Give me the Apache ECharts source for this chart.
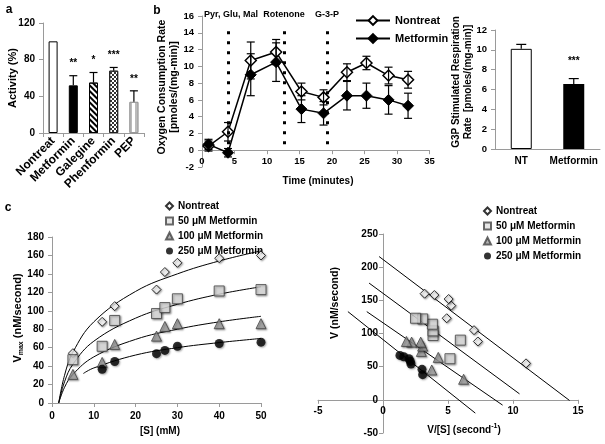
<!DOCTYPE html>
<html><head><meta charset="utf-8">
<script src="https://cdn.jsdelivr.net/npm/echarts@6/dist/echarts.min.js"></script>
<style>html,body{margin:0;padding:0;background:#fff}#c{width:605px;height:444px}</style>
</head><body><div id="c"></div>
<script>
// ---------- Panel a ----------
const aCats = ['Nontreat', 'Metformin', 'Galegine', 'Phenformin', 'PEP'];
const aVals = [100, 52, 55, 68, 34];
const aErr = [0, 10.5, 11, 3.5, 12];
const aStars = ['', '**', '*', '***', '**'];
// ---------- Panel b (left) ----------
const bTime = [1, 4, 7.5, 11.4, 15.3, 18.7, 22.3, 25.3, 28.7, 31.7];
const bNT = [0.5, 2.2, 10.7, 11.7, 7.0, 6.3, 9.3, 10.4, 8.9, 8.4];
const bNTerr = [0.6, 1.1, 2.2, 1.5, 1.0, 0.9, 1.0, 0.8, 1.0, 1.0];
const bMet = [0.7, -0.3, 9.0, 10.5, 4.9, 4.4, 6.5, 6.5, 6.0, 5.3];
const bMetErr = [0.6, 0.5, 2.5, 2.3, 1.6, 1.4, 1.7, 1.5, 1.7, 1.5];
const injTimes = [4.0, 12.6, 19.2];
const injLabels = ['Pyr, Glu, Mal', 'Rotenone', 'G-3-P'];
// ---------- Panel b (right) ----------
const g3pCats = ['NT', 'Metformin'];
const g3pVals = [10.1, 6.55];
const g3pErr = [0.45, 0.55];
const g3pStars = ['', '***'];
// ---------- Panel c (left) ----------
const sAll = [5, 12, 15, 25, 27, 30, 40, 50];
const vNT = [54, 88, 105, 123, 142, 152, 157, 160];
const v50 = [47, 61.5, 89.5, 97, 103.5, 113, 121.5, 123];
const v100 = [31, 44, 63.5, 72.5, 83, 86, 86, 86];
const s250 = [12, 15, 25, 27, 30, 40, 50];
const v250 = [36.5, 45, 53.5, 57, 61.5, 64.5, 66];
const fitX = [1.6, 3, 5, 10, 20, 30, 40, 50];
const fitNT = [0, 30, 55, 88, 121, 140, 154, 165];
const fit50 = [0, 23, 42, 67, 92, 107, 118, 126];
const fit100 = [0, 17, 31, 50, 69, 80, 88, 94];
const fit250X = [7.5, 10, 20, 30, 40, 50];
const fit250 = [32, 38, 52, 60, 65.5, 70];
// ---------- Panel c (right, Eadie-Hofstee) ----------
const ehNTx = [11, 7.3, 7.0, 4.9, 5.25, 5.05, 3.95, 3.2];
const ehNTy = [55, 88, 105, 123, 142, 152, 158, 160];
const eh50x = [5.15, 5.95, 3.85, 3.85, 3.8, 3.05, 2.5];
const eh50y = [62, 90, 97, 104, 114, 122, 123];
const eh100x = [6.2, 3.75, 4.25, 2.95, 3.05, 2.9, 2.2, 1.8];
const eh100y = [31, 45, 64, 73, 81, 87, 87, 88];
const eh250x = [3.05, 3.0, 2.15, 2.1, 2.0, 1.6, 1.3];
const eh250y = [38, 46, 54, 58, 62, 65, 67];
const ehLineNTx = [-0.3, 14.35], ehLineNTy = [216, -1];
const ehLine50x = [-1.07, 10.5], ehLine50y = [176, 9];
const ehLine100x = [-1.25, 9.2], ehLine100y = [133, -8];
const ehLine250x = [-2.7, 7.1], ehLine250y = [133, -20];

const FONT = "'Liberation Sans', Arial, sans-serif";
const AX = '#9a9a9a';
const zip = (xs, ys) => xs.map((x, i) => [x, ys[i]]);
const lbl = (extra) => Object.assign({color: '#000', fontFamily: FONT, fontWeight: 'bold', fontSize: 9.5}, extra || {});
function valAxis(gi, min, max, interval, extra) {
  return Object.assign({
    type: 'value', gridIndex: gi, min, max, interval,
    axisLine: {show: true, onZero: false, lineStyle: {color: AX}},
    axisTick: {show: true, length: 4, lineStyle: {color: AX}},
    splitLine: {show: false},
    axisLabel: lbl({margin: 8})
  }, extra || {});
}
function catAxis(gi, data, extra) {
  return Object.assign({
    type: 'category', gridIndex: gi, data,
    axisLine: {show: true, onZero: false, lineStyle: {color: AX}},
    axisTick: {show: true, length: 4, interval: 0, lineStyle: {color: AX}},
    splitLine: {show: false},
    axisLabel: lbl({margin: 8, interval: 0})
  }, extra || {});
}
function errSeries(xi, yi, xs, ys, es, cap, both, stars, starGap) {
  return {
    type: 'custom', xAxisIndex: xi, yAxisIndex: yi, z: 5, silent: true,
    data: xs.map((x, i) => [x, ys[i], es[i], i]),
    renderItem(params, api) {
      const x = api.value(0), y = api.value(1), e = api.value(2), i = api.value(3);
      const ch = [];
      const top = api.coord([x, y + e]);
      const bot = api.coord([x, both ? y - e : y]);
      const st = {stroke: '#000', lineWidth: 1.2};
      if (e > 0) {
        ch.push({type: 'line', shape: {x1: top[0], y1: top[1], x2: bot[0], y2: bot[1]}, style: st});
        ch.push({type: 'line', shape: {x1: top[0] - cap, y1: top[1], x2: top[0] + cap, y2: top[1]}, style: st});
        if (both) ch.push({type: 'line', shape: {x1: bot[0] - cap, y1: bot[1], x2: bot[0] + cap, y2: bot[1]}, style: st});
      }
      if (stars && stars[i]) {
        ch.push({type: 'text', x: top[0], y: top[1] - starGap,
          style: {text: stars[i], align: 'center', verticalAlign: 'middle', fill: '#000',
            font: 'bold 10px ' + FONT}});
      }
      return {type: 'group', children: ch};
    }
  };
}

const barItemStyles = [
  {color: '#fff', borderColor: '#000', borderWidth: 1},
  {color: '#000', borderColor: '#000', borderWidth: 1},
  {color: '#fff', borderColor: '#000', borderWidth: 1,
    decal: {symbol: 'rect', color: '#000', dashArrayX: [1, 0], dashArrayY: [2, 2], rotation: Math.PI / 4}},
  {color: '#fff', borderColor: '#222', borderWidth: 1,
    decal: {symbol: 'rect', color: '#333', symbolSize: 1, dashArrayX: [[2, 2], [0, 2, 2, 0]], dashArrayY: [2, 0]}},
  {color: '#fff', borderColor: '#999', borderWidth: 1,
    decal: {symbol: 'rect', color: '#bbb', dashArrayX: [1.5, 3], dashArrayY: [1, 0]}}
];

const sh = {shadowBlur: 2, shadowColor: 'rgba(0,0,0,0.45)', shadowOffsetX: 1, shadowOffsetY: 1};
const cStyle = {
  nt: {symbol: 'diamond', symbolSize: 9, itemStyle: Object.assign({color: '#fff', borderColor: '#000', borderWidth: 1}, sh)},
  m50: {symbol: 'rect', symbolSize: 10, itemStyle: Object.assign({color: '#e0e0e0', borderColor: '#444', borderWidth: 1}, sh)},
  m100: {symbol: 'triangle', symbolSize: 10, itemStyle: Object.assign({color: '#a0a0a0', borderColor: '#444', borderWidth: 1}, sh)},
  m250: {symbol: 'circle', symbolSize: 9, itemStyle: Object.assign({color: '#000', borderColor: '#000', borderWidth: 0}, sh)}
};
const cNames = ['Nontreat ', '50 μM Metformin', '100 μM Metformin', '250 μM Metformin'];
function scat(xi, name, st, data) {
  return Object.assign({type: 'scatter', name, xAxisIndex: xi, yAxisIndex: xi, data, z: 4}, st);
}
function fitLine(xi, xs, ys, smooth) {
  return {type: 'line', xAxisIndex: xi, yAxisIndex: xi, data: zip(xs, ys), smooth: smooth ? 0.4 : false,
    showSymbol: false, lineStyle: {color: '#000', width: 1}, z: 3, silent: true};
}

const option = {
  animation: false,
  backgroundColor: '#fff',
  textStyle: {fontFamily: FONT},
  grid: [
    {left: 43, top: 23, width: 101, height: 110},
    {left: 202, top: 16, width: 227.5, height: 151},
    {left: 495, top: 30, width: 105, height: 119},
    {left: 52, top: 237, width: 209, height: 166},
    {left: 318, top: 234, width: 260, height: 199}
  ],
  xAxis: [
    catAxis(0, aCats, {axisLabel: lbl({rotate: 45, margin: 6, fontSize: 12, interval: 0, hideOverlap: false})}),
    valAxis(1, 0, 35, 5, {offset: -16.8, axisLabel: lbl({margin: 6})}),
    catAxis(2, g3pCats, {axisTick: {show: false}, axisLabel: lbl({margin: 7, fontSize: 10, interval: 0})}),
    valAxis(3, 0, 50, 10, {axisLabel: lbl({margin: 8, fontSize: 10})}),
    valAxis(4, -5, 15, 5, {offset: -33.2, axisLabel: lbl({margin: 6, fontSize: 10})})
  ],
  yAxis: [
    valAxis(0, 0, 120, 40, {axisLabel: lbl({margin: 8, fontSize: 10})}),
    valAxis(1, -2, 16, 2),
    valAxis(2, 0, 12, 2),
    valAxis(3, 0, 180, 20, {axisLabel: lbl({margin: 8, fontSize: 10})}),
    valAxis(4, -50, 250, 50, {offset: -65, axisLabel: lbl({margin: 5, fontSize: 10})})
  ],
  legend: [
    {left: 350, top: 10, orient: 'vertical', itemWidth: 34, itemHeight: 11, itemGap: 7,
      data: ['Nontreat', 'Metformin'], textStyle: lbl({fontSize: 11})},
    {left: 160, top: 196, orient: 'vertical', itemWidth: 7, itemHeight: 7, itemGap: 5,
      data: cNames, textStyle: lbl({fontSize: 10})},
    {left: 478, top: 201, orient: 'vertical', itemWidth: 7, itemHeight: 7, itemGap: 5,
      data: cNames, textStyle: lbl({fontSize: 10})}
  ],
  series: [
    {type: 'bar', xAxisIndex: 0, yAxisIndex: 0, barWidth: 9,
      data: aVals.map((v, i) => ({value: v, itemStyle: barItemStyles[i]}))},
    errSeries(0, 0, aCats, aVals, aErr, 4, false, aStars, 12),
    {type: 'line', name: 'Nontreat', xAxisIndex: 1, yAxisIndex: 1, data: zip(bTime, bNT),
      symbol: 'diamond', symbolSize: 11, lineStyle: {color: '#000', width: 1.5},
      itemStyle: {color: '#fff', borderColor: '#000', borderWidth: 1.5}, z: 4,
      markLine: {silent: true, symbol: 'none', label: {show: false},
        lineStyle: {color: '#000', type: [3, 7], width: 3},
        data: injTimes.map(t => [{coord: [t, 0.7]}, {coord: [t, 14.9]}])}},
    {type: 'line', name: 'Metformin', xAxisIndex: 1, yAxisIndex: 1, data: zip(bTime, bMet),
      symbol: 'diamond', symbolSize: 11, lineStyle: {color: '#000', width: 1.5},
      itemStyle: {color: '#000', borderColor: '#000', borderWidth: 1}, z: 4},
    errSeries(1, 1, bTime, bNT, bNTerr, 4, true, null, 0),
    errSeries(1, 1, bTime, bMet, bMetErr, 4, true, null, 0),
    {type: 'bar', xAxisIndex: 2, yAxisIndex: 2, barWidth: 21,
      data: g3pVals.map((v, i) => ({value: v, itemStyle: i === 0 ? {color: '#fff', borderColor: '#000', borderWidth: 1} : {color: '#000'}}))},
    errSeries(2, 2, g3pCats, g3pVals, g3pErr, 5, false, g3pStars, 17),
    fitLine(3, fitX, fitNT, true), fitLine(3, fitX, fit50, true), fitLine(3, fitX, fit100, true), fitLine(3, fit250X, fit250, true),
    scat(3, cNames[0], cStyle.nt, zip(sAll, vNT)),
    scat(3, cNames[1], cStyle.m50, zip(sAll, v50)),
    scat(3, cNames[2], cStyle.m100, zip(sAll, v100)),
    scat(3, cNames[3], cStyle.m250, zip(s250, v250)),
    fitLine(4, ehLineNTx, ehLineNTy), fitLine(4, ehLine50x, ehLine50y), fitLine(4, ehLine100x, ehLine100y), fitLine(4, ehLine250x, ehLine250y),
    scat(4, cNames[0], cStyle.nt, zip(ehNTx, ehNTy)),
    scat(4, cNames[1], cStyle.m50, zip(eh50x, eh50y)),
    scat(4, cNames[2], cStyle.m100, zip(eh100x, eh100y)),
    scat(4, cNames[3], cStyle.m250, zip(eh250x, eh250y))
  ],
  graphic: []
};

const g = option.graphic;
function txt(x, y, text, size, rot, extra) {
  g.push({type: 'text', x, y, rotation: rot || 0, silent: true,
    style: Object.assign({text, align: 'center', verticalAlign: 'middle', fill: '#000',
      font: 'bold ' + size + 'px ' + FONT}, extra || {})});
}
txt(9, 10, 'a', 12); txt(157, 11, 'b', 12); txt(8, 208, 'c', 12);
txt(13, 78, 'Activity (%)', 11, Math.PI / 2);
txt(168.5, 87, 'Oxygen Consumption Rate\n[pmoles/(mg-min)]', 10.5, Math.PI / 2, {lineHeight: 12});
txt(462, 82, 'G3P Stimulated Respiration\nRate  [pmoles/(mg-min)]', 10, Math.PI / 2, {lineHeight: 12.5});
txt(318, 181, 'Time (minutes)', 10);
const injX = [231, 284, 327];
injLabels.forEach((l, i) => txt(injX[i], 15, l, 9));
txt(160, 431, '[S] (mM)', 10);
txt(335, 303, 'V (nM/second)', 10.5, Math.PI / 2);
g.push({type: 'text', x: 18, y: 318, rotation: Math.PI / 2, silent: true,
  style: {text: '{a|V}{s|max}{a| (nM/second)}', align: 'center', verticalAlign: 'middle',
    rich: {a: {font: 'bold 11px ' + FONT, fill: '#000', lineHeight: 14},
           s: {font: 'bold 7px ' + FONT, fill: '#000', lineHeight: 14, verticalAlign: 'bottom', padding: [5, 0, 0, 0]}}}});
g.push({type: 'text', x: 464, y: 430, silent: true,
  style: {text: '{a|V/[S] (second}{s|-1}{a|)}', align: 'center', verticalAlign: 'middle',
    rich: {a: {font: 'bold 10px ' + FONT, fill: '#000', lineHeight: 14},
           s: {font: 'bold 7px ' + FONT, fill: '#000', lineHeight: 14, verticalAlign: 'top', padding: [0, 0, 5, 0]}}}});

const chart = echarts.init(document.getElementById('c'), null, {renderer: 'canvas'});
chart.setOption(option);
</script></body></html>
